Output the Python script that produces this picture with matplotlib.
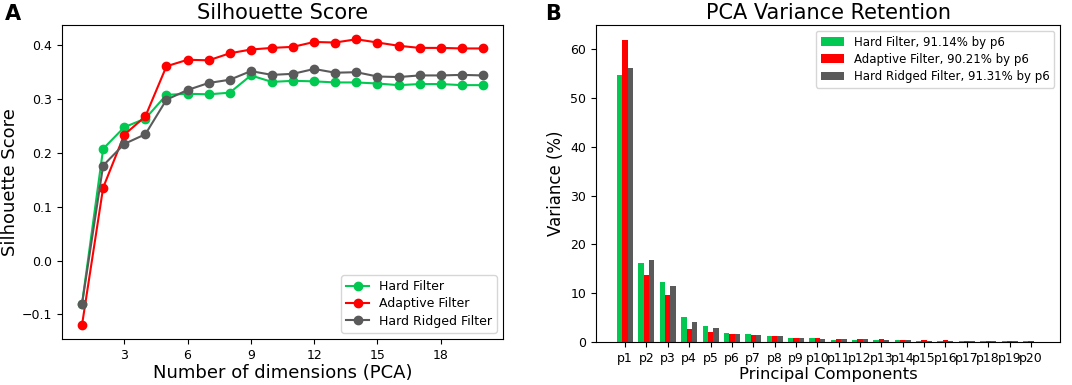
import numpy as np
import matplotlib
matplotlib.use("Agg")
import matplotlib.pyplot as plt

dims = list(range(1, 21))
hard = [-0.080, 0.207, 0.247, 0.263, 0.307, 0.309, 0.308, 0.311, 0.343, 0.331,
        0.333, 0.332, 0.330, 0.330, 0.328, 0.325, 0.327, 0.327, 0.325, 0.325]
adaptive = [-0.119, 0.135, 0.233, 0.267, 0.360, 0.372, 0.371, 0.384, 0.391, 0.394,
            0.396, 0.405, 0.404, 0.410, 0.404, 0.398, 0.394, 0.394, 0.393, 0.393]
ridged = [-0.080, 0.176, 0.216, 0.234, 0.298, 0.316, 0.329, 0.335, 0.351, 0.344,
          0.346, 0.355, 0.348, 0.349, 0.341, 0.340, 0.343, 0.343, 0.344, 0.343]

components = [f"p{i}" for i in range(1, 21)]
var_hard = [54.8, 16.1, 12.2, 5.1, 3.3, 1.9, 1.6, 1.2, 0.9, 0.8,
            0.5, 0.5, 0.5, 0.5, 0.3, 0.3, 0.25, 0.2, 0.2, 0.15]
var_adaptive = [61.9, 13.7, 9.7, 2.7, 2.05, 1.7, 1.4, 1.2, 0.9, 0.9,
                0.6, 0.6, 0.6, 0.4, 0.4, 0.4, 0.25, 0.2, 0.2, 0.2]
var_ridged = [56.2, 16.8, 11.5, 4.0, 2.9, 1.7, 1.4, 1.2, 0.9, 0.7,
              0.6, 0.6, 0.4, 0.4, 0.2, 0.2, 0.2, 0.2, 0.15, 0.1]
legend_bar = ["Hard Filter, 91.14% by p6", "Adaptive Filter, 90.21% by p6",
              "Hard Ridged Filter, 91.31% by p6"]

GREEN = "#00c850"
RED = "#ff0000"
GRAY = "#5a5a5a"

fig = plt.figure(figsize=(10.72, 3.85), dpi=100)
ax1 = fig.add_axes([62/1072, 1-339/385, (503-62)/1072, (339-25)/385])
ax2 = fig.add_axes([596/1072, 1-342/385, (1060-596)/1072, (342-25)/385])

for ys, c, lab in [(hard, GREEN, "Hard Filter"), (adaptive, RED, "Adaptive Filter"),
                   (ridged, GRAY, "Hard Ridged Filter")]:
    ax1.plot(dims, ys, "-o", color=c, label=lab, markersize=6, linewidth=1.5)
ax1.set_xticks([3, 6, 9, 12, 15, 18])
ax1.set_yticks([-0.1, 0.0, 0.1, 0.2, 0.3, 0.4])
ax1.set_title("Silhouette Score", fontsize=15, pad=4)
ax1.set_xlabel("Number of dimensions (PCA)", fontsize=13, labelpad=2)
ax1.set_ylabel("Silhouette Score", fontsize=13, labelpad=2)
ax1.tick_params(labelsize=9)
ax1.legend(loc="lower right", fontsize=9, labelspacing=0.35, handlelength=1.8)

x = np.arange(len(components))
w = 0.25
ax2.bar(x - w, var_hard, w, color=GREEN, label=legend_bar[0])
ax2.bar(x, var_adaptive, w, color=RED, label=legend_bar[1])
ax2.bar(x + w, var_ridged, w, color=GRAY, label=legend_bar[2])
ax2.set_xticks(x)
ax2.set_xticklabels(components)
ax2.set_title("PCA Variance Retention", fontsize=15, pad=4)
ax2.set_xlabel("Principal Components", fontsize=11.8, labelpad=2)
ax2.set_ylabel("Variance (%)", fontsize=12, labelpad=4)
ax2.tick_params(labelsize=9)
ax2.legend(loc="upper right", fontsize=8.5, labelspacing=0.35)

fig.text(5/1072, 1-14/385, "A", fontsize=15, fontweight="bold", va="center")
fig.text(545/1072, 1-14/385, "B", fontsize=15, fontweight="bold", va="center")

fig.savefig("out.png", dpi=100)
